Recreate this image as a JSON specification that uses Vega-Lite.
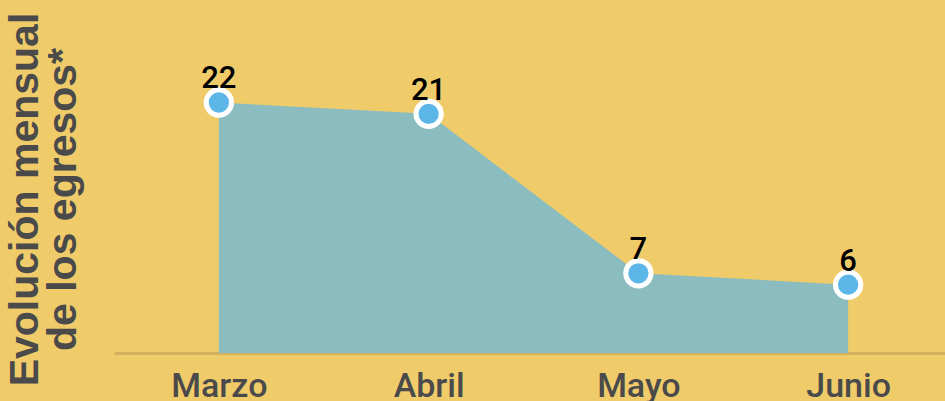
{
  "$schema": "https://vega.github.io/schema/vega-lite/v6.json",
  "width": 839,
  "height": 353,
  "autosize": "none",
  "padding": {"left": 114, "top": 0, "right": 0, "bottom": 48},
  "background": "#F0CB6A",
  "config": {"view": {"stroke": null}},
  "data": {"values": [
    {"mes": "Marzo", "egresos": 22},
    {"mes": "Abril", "egresos": 21},
    {"mes": "Mayo", "egresos": 7},
    {"mes": "Junio", "egresos": 6}
  ]},
  "encoding": {
    "x": {"field": "mes", "type": "ordinal", "sort": null,
      "scale": {"type": "point", "padding": 0.5},
      "axis": {"title": null, "labelAngle": 0, "ticks": false, "grid": false,
        "domainColor": "#D3B15E", "domainWidth": 3,
        "labelFont": "Roboto", "labelFontSize": 34, "labelFontWeight": 500,
        "labelColor": "#4A4A4A", "labelPadding": 16}},
    "y": {"field": "egresos", "type": "quantitative",
      "scale": {"domain": [0, 31], "nice": false},
      "axis": {"title": ["Evolución mensual", "de los egresos*"],
        "labels": false, "ticks": false, "domain": false, "grid": false,
        "titleFont": "Liberation Sans", "titleFontSize": 41, "titleFontWeight": "bold",
        "titleColor": "#4A4A4A", "titleAngle": -90, "titleAlign": "center",
        "titleBaseline": "top", "titleLineHeight": 38,
        "titleX": -109, "titleY": 199}}
  },
  "layer": [
    {"mark": {"type": "area", "color": "#8BBCBF", "opacity": 1}},
    {"mark": {"type": "point", "filled": true, "fill": "#5DB6E8", "stroke": "white", "strokeWidth": 5, "size": 640, "opacity": 1}},
    {"mark": {"type": "text", "font": "Roboto", "fontSize": 31, "fontWeight": 500, "color": "black", "baseline": "alphabetic", "dy": -14},
      "encoding": {"text": {"field": "egresos", "type": "quantitative"}}}
  ]
}
